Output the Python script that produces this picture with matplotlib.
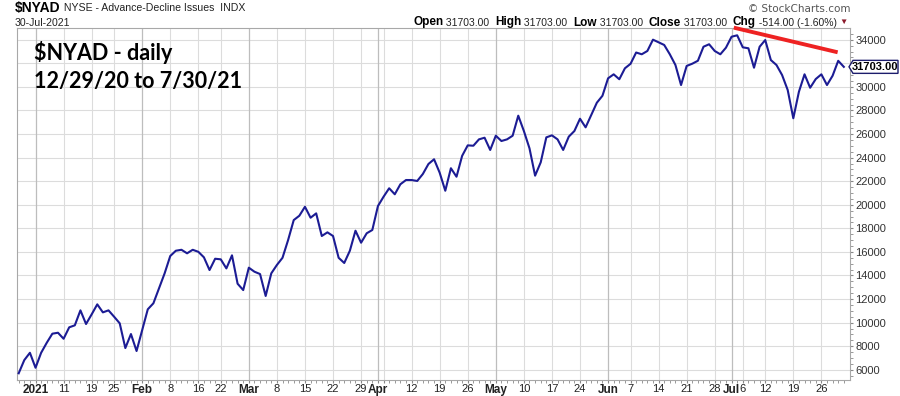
import numpy as np
import matplotlib
matplotlib.use("Agg")
import matplotlib.pyplot as plt
from matplotlib.patches import Polygon

# $NYAD daily closes, 12/29/20 .. 7/30/21 (one value per trading day)
nyad = [5700, 6820, 7440, 6170, 7440, 8290, 9060, 9140, 8630, 9600,
        9770, 11040, 9880, 10700, 11550, 10870, 11040, 10500, 9940, 7840,
        9030, 7590, 9370, 11130, 11640, 12910, 14180, 15650, 16100, 16180,
        15880, 16180, 16010, 15540, 14460, 15420, 15370, 14600, 15710, 13300,
        12760, 14660, 14320, 14120, 12260, 14180, 14890, 15500, 17010, 18700,
        19070, 19830, 18900, 19270, 17350, 17660, 17350, 15500, 15060, 16100,
        17800, 16780, 17580, 17860, 19890, 20680, 21400, 20890, 21740, 22100,
        22100, 22020, 22610, 23460, 23860, 22720, 21190, 23100, 22380, 24150,
        25040, 25010, 25550, 25690, 24650, 25860, 25410, 25550, 25860, 27560,
        26260, 24790, 22470, 23600, 25720, 25890, 25550, 24650, 25780, 26260,
        27300, 26570, 27620, 28660, 29250, 30730, 31070, 30650, 31580, 31960,
        32920, 32770, 33050, 34010, 33790, 33560, 32770, 31860, 30160, 31780,
        31970, 32220, 33410, 33620, 33050, 32770, 33330, 34260, 34380, 33360,
        33280, 31630, 33410, 33980, 32280, 31860, 31010, 29740, 27340, 29590,
        31070, 29930, 30670, 31070, 30160, 30950, 32217, 31703]

# x axis labels (trading-day index -> text)
tick_idx = [3, 8, 13, 17, 22, 27, 32, 36, 41, 46, 51, 56, 61, 64, 65, 70,
            75, 80, 85, 90, 95, 100, 105, 109, 114, 119, 124, 127, 129, 133,
            138, 143]
tick_txt = ['2021', '11', '19', '25', 'Feb', '8', '16', '22', 'Mar', '8',
            '15', '22', '29', 'Apr', '', '12', '19', '26', 'May', '10', '17',
            '24', 'Jun', '7', '14', '21', '28', 'Jul', '6', '12', '19', '26']
month_idx = [3, 22, 41, 64, 85, 105, 127]

y_ticks = list(range(6000, 34001, 2000))

# hand drawn red trendline (trading-day index, value)
trend_x = [127.4, 145.9]
trend_y = [35030, 32940]

last_close = 31703.00
chg = -514.00
chg_pct = -1.60

W, H = 900, 396
fig = plt.figure(figsize=(W / 100, H / 100), dpi=100)
fig.patch.set_facecolor('white')
ax = fig.add_axes([17 / W, 1 - 380 / H, 833 / W, 352 / H])

x = np.arange(len(nyad))
ax.set_xlim(-0.3, 148.1)
ax.set_ylim(5130, 35000)

# grid
for v in y_ticks:
    ax.axhline(v, color='#dcdcdc', lw=0.8, zorder=0)
for i in tick_idx:
    col = '#bdbdbd' if i in month_idx else '#dcdcdc'
    ax.axvline(i, color=col, lw=0.9 if i in month_idx else 0.8, zorder=0)

ax.plot(x, nyad, color='#1c1c94', lw=1.5, zorder=3, solid_joinstyle='round')
ax.plot(trend_x, trend_y, color='#ee2222', lw=2.8, zorder=4, clip_on=False,
        solid_capstyle='butt')

for s in ax.spines.values():
    s.set_color('#a8a8a8')
    s.set_linewidth(0.8)

ax.set_xticks(tick_idx)
ax.set_xticklabels(tick_txt)
ax.set_xticks(x, minor=True)
ax.tick_params(axis='x', which='both', length=2, color='#888888', pad=1,
               labelsize=8, labelcolor='#222222')
for lbl, i in zip(ax.get_xticklabels(), tick_idx):
    lbl.set_fontfamily('Liberation Sans')
    if i in month_idx:
        lbl.set_fontweight('bold')
        lbl.set_fontsize(8.5)

ax.yaxis.tick_right()
ax.set_yticks(y_ticks)
ax.set_yticklabels([str(v) if v != 32000 else '' for v in y_ticks])
ax.set_yticks(range(5500, 35000, 500), minor=True)
ax.tick_params(axis='y', which='both', length=2, color='#888888', pad=2,
               labelsize=8, labelcolor='#333333', left=False)
for lbl in ax.get_yticklabels():
    lbl.set_fontfamily('Liberation Sans')

# big annotation
ax.text(0.021, 0.929, '$NYAD - daily', transform=ax.transAxes, fontsize=15.5,
        fontfamily='Lato', fontweight='bold', color='black', va='center')
ax.text(0.021, 0.847, '12/29/20 to 7/30/21', transform=ax.transAxes,
        fontsize=15.5, fontfamily='Lato', fontweight='bold', color='black',
        va='center')

# header
fig.canvas.draw()
rend = fig.canvas.get_renderer()


def pieces(x0, y0, parts):
    """Draw text pieces left to right starting at pixel x0, centred on y0."""
    cur = x0
    for txt, bold, size, color in parts:
        t = fig.text(cur / W, 1 - y0 / H, txt, fontsize=size,
                     fontweight='bold' if bold else 'normal',
                     fontfamily='Liberation Sans', color=color, va='center')
        cur = t.get_window_extent(rend).x1


pieces(15, 8, [('$NYAD', True, 10, 'black'),
               (' NYSE - Advance-Decline Issues  INDX', False, 7.6, '#222222')])
fig.text(15 / W, 1 - 23 / H, '30-Jul-2021', fontsize=7.6,
         fontfamily='Liberation Sans', color='#222222', va='center')
pieces(413, 22.5, [('Open', True, 8.5, 'black'),
                   (' 31703.00  ', False, 7.5, '#222222'),
                   ('High', True, 8.5, 'black'),
                   (' 31703.00  ', False, 7.5, '#222222'),
                   ('Low', True, 8.5, 'black'),
                   (' 31703.00  ', False, 7.5, '#222222'),
                   ('Close', True, 8.5, 'black'),
                   (' 31703.00  ', False, 7.5, '#222222'),
                   ('Chg', True, 8.5, 'black'),
                   (' %.2f (%.2f%%) ' % (chg, chg_pct), False, 7.5, '#222222'),
                   ('\u25bc', False, 6, '#8b1a2b')])
fig.text(850 / W, 1 - 9 / H, '\u00a9 StockCharts.com', fontsize=7.5,
         fontfamily='DejaVu Sans', color='#555555', va='center', ha='right')

# last value tag on the right axis
py = ax.transData.transform((0, last_close))[1]
yy = py / H
x_l, x_p, x_r = 849 / W, 853 / W, 898 / W
hh = 6.5 / H
tag = Polygon([(x_l, yy), (x_p, yy + hh), (x_r, yy + hh), (x_r, yy - hh),
               (x_p, yy - hh)], closed=True, transform=fig.transFigure,
              facecolor='white', edgecolor='#1c1c6c', lw=1.0, zorder=5)
fig.patches.append(tag)
fig.text((x_p + x_r) / 2, yy, '%.2f' % last_close, fontsize=8,
         fontweight='bold', fontfamily='Liberation Sans', color='black',
         ha='center', va='center', zorder=6)

fig.savefig('out.png', dpi=100, facecolor='white')
